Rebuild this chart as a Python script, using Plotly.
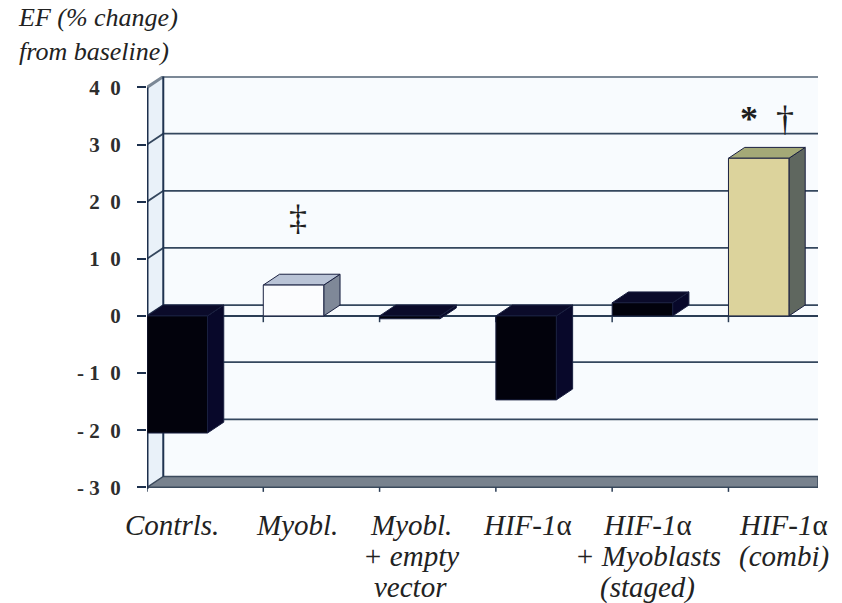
import plotly.graph_objects as go

# --- data -------------------------------------------------------------
categories = [
    ["Contrls."],
    ["Myobl."],
    ["Myobl.", "+ empty", "vector"],
    ["<i>HIF-1</i>α"],
    ["<i>HIF-1</i>α", "+ Myoblasts", "(staged)"],
    ["<i>HIF-1</i>α", "(combi)"],
]
ef_change = [-20.5, 5.4, -0.5, -14.7, 2.3, 27.6]
significance = ["", "‡", "", "", "", "<b>*</b>  †"]
y_ticks = [-30, -20, -10, 0, 10, 20, 30, 40]
y_tick_text = ["-\u00a03\u00a0\u00a00", "-\u00a02\u00a0\u00a00", "-\u00a01\u00a0\u00a00", "0",
               "1\u00a0\u00a00", "2\u00a0\u00a00", "3\u00a0\u00a00", "4\u00a0\u00a00"]

# --- styling ----------------------------------------------------------
SERIF = "Liberation Serif, Times New Roman, serif"
face_colors = [
    # front, top, side
    ("#02020c", "#0b0b2a", "#08082a"),
    ("#fbfcfe", "#b9c3d6", "#7f8898"),
    ("#02020c", "#0b0b2a", "#08082a"),
    ("#02020c", "#0b0b2a", "#08082a"),
    ("#02020c", "#0b0b2a", "#08082a"),
    ("#dcd39c", "#a4a977", "#5f675f"),
]
edge = "#1a2040"
BAR_W = 0.52        # front-face width in category units
DX, DY = 0.14, 1.9  # depth offset (x in category units, y in value units)
Y_MIN, Y_MAX = -30, 40
X_END = 5.77
M_T, M_B, H = 76, 110, 603
PLOT_H = H - M_T - M_B

fig = go.Figure()


def poly(xs, ys, fill, line_color=edge, width=1):
    fig.add_trace(go.Scatter(
        x=xs + [xs[0]], y=ys + [ys[0]], mode="lines", fill="toself",
        fillcolor=fill, line=dict(color=line_color, width=width),
        hoverinfo="skip", showlegend=False))


def seg(xs, ys, color, width):
    fig.add_trace(go.Scatter(x=xs, y=ys, mode="lines",
                             line=dict(color=color, width=width),
                             hoverinfo="skip", showlegend=False))


# back wall and left wall
poly([DX, X_END, X_END, DX], [Y_MIN + DY, Y_MIN + DY, Y_MAX + DY, Y_MAX + DY],
     "#f8fbfe", line_color="rgba(0,0,0,0)")
poly([0, DX, DX, 0], [Y_MIN, Y_MIN + DY, Y_MAX + DY, Y_MAX], "#e9f1f9",
     line_color="rgba(0,0,0,0)")

# gridlines on the back wall, with their diagonals on the left wall
for v in y_ticks[1:]:
    top = v == Y_MAX
    seg([0, DX, X_END], [v, v + DY, v + DY],
        "#7b8896" if top else "#34475e", 3 if top else 1.8)

# floor
poly([0, DX, X_END, X_END], [Y_MIN, Y_MIN + DY, Y_MIN + DY, Y_MIN],
     "#78828e", line_color="#3b4a5c", width=1.5)

# vertical edges of the walls
seg([DX, DX], [Y_MIN + DY, Y_MAX + DY], "#1f3350", 2)
seg([0, 0], [Y_MIN - 0.3, Y_MAX], "#1c2f4c", 3)

# category axis at zero, with ticks between categories
seg([0, X_END], [0, 0], "#2b3d55", 2)
for i in range(1, len(categories)):
    seg([i, i], [0, -1.1], "#2b3d55", 1.5)
for i in range(0, len(categories)):
    seg([i, i], [Y_MIN, Y_MIN - 0.8], "#2b3d55", 1.5)

# 3-D columns
for i, v in enumerate(ef_change):
    x0, x1 = i, i + BAR_W
    lo, hi = min(0, v), max(0, v)
    front, topc, side = face_colors[i]
    poly([x1, x1, x1 + DX, x1 + DX], [lo, hi, hi + DY, lo + DY], side)
    poly([x0, x0 + DX, x1 + DX, x1], [hi, hi + DY, hi + DY, hi], topc)
    poly([x0, x1, x1, x0], [lo, lo, hi, hi], front)

# significance marks above the columns
for i, (v, s) in enumerate(zip(ef_change, significance)):
    if s:
        fig.add_annotation(x=i + BAR_W / 2 + DX / 2, y=v + DY,
                           xshift=-4 if i == 1 else 0,
                           text=s, showarrow=False, yanchor="bottom",
                           yshift=34 if i == 1 else 6,
                           font=dict(family=SERIF, size=36, color="#1e1e1e"))

# category labels, one annotation per line (positioned below the plot area)
label_shift = [-6, 2, 0, 0, 4, 24]
for i, lines in enumerate(categories):
    for k, line in enumerate(lines):
        px = 525 + k * 31
        fig.add_annotation(x=i + 0.27, xshift=label_shift[i], xref="x",
                           y=(H - M_B - px) / PLOT_H, yref="paper", yanchor="middle",
                           text=line if "<i>" in line else f"<i>{line}</i>",
                           showarrow=False,
                           font=dict(family=SERIF, size=29, color="#222222"))

# axis title
fig.add_annotation(xref="paper", yref="paper", x=-0.195, y=1.18,
                   xanchor="left", yanchor="top", align="left",
                   text="<i>EF (% change)<br>from baseline)</i>", showarrow=False,
                   font=dict(family=SERIF, size=26, color="#222222"))

fig.update_layout(
    width=842, height=H,
    margin=dict(l=147, r=24, t=M_T, b=M_B),
    paper_bgcolor="white", plot_bgcolor="white",
    showlegend=False,
    xaxis=dict(range=[0, X_END], visible=False, fixedrange=True),
    yaxis=dict(range=[-31, 42], tickvals=y_ticks, ticktext=y_tick_text,
               ticks="outside", ticklen=9, tickwidth=2, tickcolor="#1c2f4c",
               ticklabelstandoff=12, showgrid=False, zeroline=False, showline=False,
               tickfont=dict(family=SERIF, size=21, color="#2e2e2e", weight="bold"),
               fixedrange=True),
)

fig.write_html("out.html")
